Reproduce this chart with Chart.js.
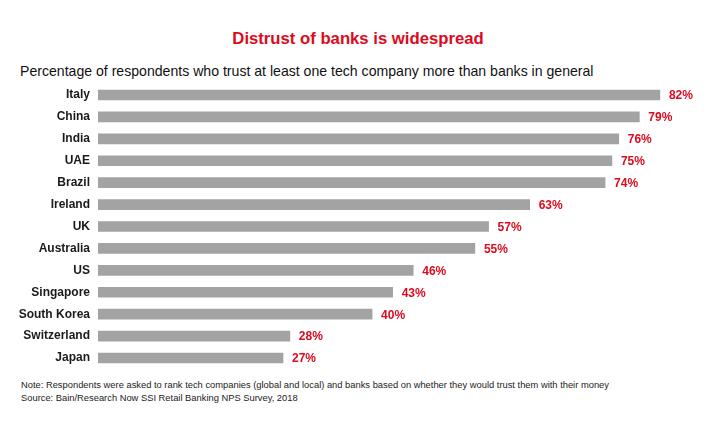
<!DOCTYPE html>
<html>
<head>
<meta charset="utf-8">
<script src="https://cdn.jsdelivr.net/npm/chart.js@4/dist/chart.umd.min.js"></script>
<style>
    body {
        margin: 0;
        background: #fff;
        font-family: "Liberation Sans", Arial, sans-serif;
    }
    #page {
        position: relative;
        width: 716px;
        height: 430px;
        overflow: hidden;
    }
    #title {
        position: absolute;
        left: 0;
        top: 29px;
        width: 716px;
        text-align: center;
        color: #dc0a1e;
        font-weight: bold;
        font-size: 16.7px;
    }
    #subtitle {
        position: absolute;
        left: 20px;
        top: 63px;
        color: #111;
        font-size: 14.1px;
    }
    #chartBox {
        position: absolute;
        left: 0;
        top: 78px;
        width: 716px;
        height: 300px;
    }
    #notes {
        position: absolute;
        left: 21px;
        top: 379px;
        color: #222;
        font-size: 9.35px;
        line-height: 13px;
    }
</style>
</head>
<body>
<div id="page">
    <div id="title">Distrust of banks is widespread</div>
    <div id="subtitle">Percentage of respondents who trust at least one tech company more than banks in general</div>
    <div id="chartBox"><canvas id="trustChart"></canvas></div>
    <div id="notes">
        Note: Respondents were asked to rank tech companies (global and local) and banks based on whether they would trust them with their money<br>
        Source: Bain/Research Now SSI Retail Banking NPS Survey, 2018
    </div>
</div>
<script>
const countries = [
    "Italy", "China", "India", "UAE", "Brazil", "Ireland", "UK",
    "Australia", "US", "Singapore", "South Korea", "Switzerland", "Japan",
];
// % who trust at least one tech company more than banks
const trustShare = [82, 79, 76, 75, 74, 63, 57, 55, 46, 43, 40, 28, 27];

const red = "#dc0a1e";

// draw the red % next to each bar
const valueLabels = {
    id: "valueLabels",
    afterDatasetsDraw(chart) {
        const ctx = chart.ctx;
        const meta = chart.getDatasetMeta(0);
        ctx.save();
        ctx.font = "bold 12px 'Liberation Sans', Arial, sans-serif";
        ctx.fillStyle = red;
        ctx.textAlign = "left";
        ctx.textBaseline = "middle";
        meta.data.forEach((bar, i) => {
            ctx.fillText(trustShare[i] + "%", bar.x + 9, bar.y + 1);
        });
        ctx.restore();
    },
};

let trustCtx = document.getElementById("trustChart").getContext("2d");

let trustChart = new Chart(trustCtx, {
    type: "bar",
    data: {
        labels: countries,
        datasets: [
            {
                data: trustShare,
                backgroundColor: "#a3a3a3",
                borderWidth: 0,
                barThickness: 10,
            },
        ],
    },
    options: {
        indexAxis: "y",
        maintainAspectRatio: false,
        responsive: true,
        animation: false,
        layout: {
            padding: { top: 6, bottom: 9, left: 0, right: 15 },
        },
        plugins: {
            legend: { display: false },
            tooltip: { enabled: false },
        },
        scales: {
            x: {
                display: false,
                min: 0,
                max: 88,
            },
            y: {
                grid: { display: false, drawTicks: false },
                border: { display: false },
                // fixed label column, no extra room for the label halves
                afterFit: (scale) => {
                    scale.width = 98;
                    scale.paddingTop = 0;
                    scale.paddingBottom = 0;
                },
                ticks: {
                    padding: 8,
                    color: "#1a1a1a",
                    font: {
                        family: "'Liberation Sans', Arial, sans-serif",
                        size: 12,
                        weight: "bold",
                    },
                },
            },
        },
    },
    plugins: [valueLabels],
});
</script>
</body>
</html>
